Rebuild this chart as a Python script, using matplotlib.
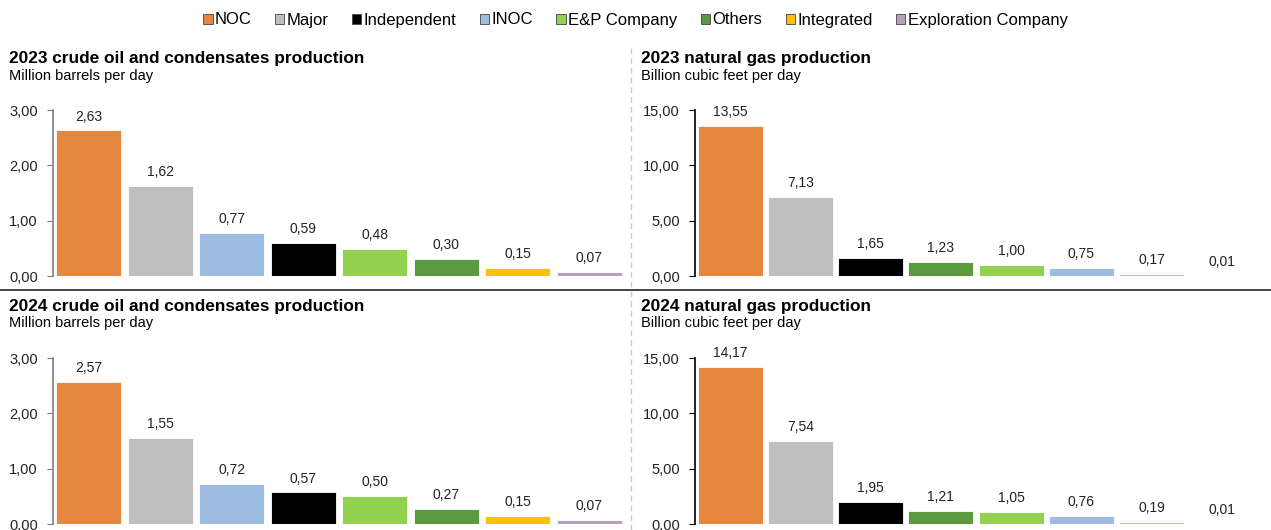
import matplotlib
matplotlib.use("Agg")
import matplotlib.pyplot as plt
from matplotlib.patches import Patch
from matplotlib.lines import Line2D

plt.rcParams['font.family'] = ['Liberation Sans', 'DejaVu Sans']

# company types and their colours
types = ["NOC", "Major", "Independent", "INOC", "E&P Company", "Others", "Integrated", "Exploration Company"]
type_colors = {
    "NOC": "#E6873F",
    "Major": "#BFBFBF",
    "Independent": "#000000",
    "INOC": "#9DBDE3",
    "E&P Company": "#92D050",
    "Others": "#5B9A3E",
    "Integrated": "#FFC000",
    "Exploration Company": "#BBA0BD",
}

# crude oil, million barrels per day
oil_order = ["NOC", "Major", "INOC", "Independent", "E&P Company", "Others", "Integrated", "Exploration Company"]
oil_2023 = [2.63, 1.62, 0.77, 0.59, 0.48, 0.30, 0.15, 0.07]
oil_2024 = [2.57, 1.55, 0.72, 0.57, 0.50, 0.27, 0.15, 0.07]

# natural gas, billion cubic feet per day
gas_order = ["NOC", "Major", "Independent", "Others", "E&P Company", "INOC", "Integrated", "Exploration Company"]
gas_2023 = [13.55, 7.13, 1.65, 1.23, 1.00, 0.75, 0.17, 0.01]
gas_2024 = [14.17, 7.54, 1.95, 1.21, 1.05, 0.76, 0.19, 0.01]

oil_ticks = [0, 1, 2, 3]
gas_ticks = [0, 5, 10, 15]

W, H = 1271, 530
fig = plt.figure(figsize=(W / 100, H / 100), dpi=100)


def fmt(v):
    return f"{v:.2f}".replace(".", ",")


def panel(left, right, top, bottom, order, values, ticks, spine_color, bar_w):
    ax = fig.add_axes([left / W, 1 - bottom / H, (right - left) / W, (bottom - top) / H])
    x = range(len(values))
    ax.bar(x, values, width=bar_w, color=[type_colors[t] for t in order],
           edgecolor="white", linewidth=0.6)
    for i, v in zip(x, values):
        ax.annotate(fmt(v), xy=(i, v), xytext=(0, 5), textcoords="offset points",
                    ha="center", va="bottom", fontsize=10, color="#222222")
    ax.set_xlim(-0.5, len(values) - 0.5)
    ax.set_ylim(0, ticks[-1])
    ax.set_yticks(ticks)
    ax.set_yticklabels([fmt(t) for t in ticks], fontsize=10.5, color="#222222")
    ax.set_xticks([])
    for s in ["top", "right", "bottom"]:
        ax.spines[s].set_visible(False)
    ax.spines["left"].set_color(spine_color)
    ax.spines["left"].set_linewidth(1.2)
    ax.tick_params(axis="y", direction="out", length=4, color=spine_color, pad=7)
    ax.patch.set_alpha(0)
    return ax


panel(53, 625, 110, 276, oil_order, oil_2023, oil_ticks, "#7F7F7F", 0.91)
panel(53, 625, 358, 524, oil_order, oil_2024, oil_ticks, "#7F7F7F", 0.91)
panel(695, 1257, 110, 276, gas_order, gas_2023, gas_ticks, "#000000", 0.925)
panel(695, 1257, 358, 524, gas_order, gas_2024, gas_ticks, "#000000", 0.925)

titles = [
    (9, 59, "2023 crude oil and condensates production", "Million barrels per day"),
    (641, 59, "2023 natural gas production", "Billion cubic feet per day"),
    (9, 306, "2024 crude oil and condensates production", "Million barrels per day"),
    (641, 306, "2024 natural gas production", "Billion cubic feet per day"),
]
for x, y, t, sub in titles:
    fig.text(x / W, 1 - y / H, t, fontsize=12.4, fontweight="bold", va="center", ha="left")
    fig.text(x / W, 1 - (y + 17) / H, sub, fontsize=10.5, va="center", ha="left")

# separators between the panels
fig.add_artist(Line2D([0, 1], [1 - 290 / H] * 2, color="#333333", linewidth=1.3))
fig.add_artist(Line2D([631 / W] * 2, [0, 1 - 45 / H], color="#C8C8C8",
                      linewidth=1, linestyle=(0, (4, 3))))

handles = [Patch(facecolor=type_colors[t], edgecolor="#444444", linewidth=0.6, label=t) for t in types]
fig.legend(handles=handles, loc="center", bbox_to_anchor=(0.5, 1 - 20 / H), ncol=len(types),
           frameon=False, fontsize=12, handlelength=0.55, handleheight=0.55,
           handletextpad=0.15, columnspacing=1.4, borderaxespad=0)

fig.savefig("out.png", dpi=100)
